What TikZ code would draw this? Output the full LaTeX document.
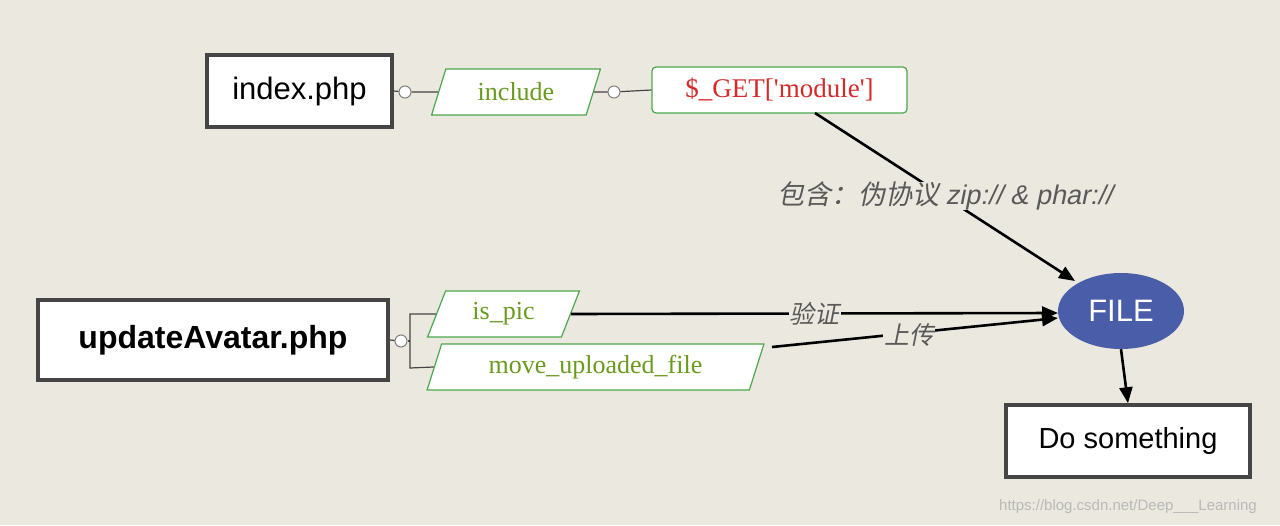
\documentclass[tikz,border=0pt]{standalone}
\usepackage{fontspec}
\setmainfont{Liberation Serif}
\setsansfont{Liberation Sans}
\newfontfamily\cjk[FakeSlant=0.2]{Noto Sans CJK SC}
\newfontfamily\slsans[FakeSlant=0.2]{Liberation Sans}
\usetikzlibrary{arrows.meta,shapes.geometric}
\definecolor{bg}{HTML}{EBE8DF}
\definecolor{gbord}{HTML}{4CA84C}
\definecolor{gtext}{HTML}{6A9A1E}
\definecolor{rtext}{HTML}{D42A2A}
\definecolor{fileblue}{HTML}{4A5DA8}
\definecolor{boxgray}{HTML}{454545}
\tikzset{
  bigbox/.style={draw=boxgray,line width=3.5pt,fill=white,font=\sffamily,inner sep=0pt},
  para/.style={trapezium,trapezium left angle=67,trapezium right angle=113,draw=gbord,line width=1.2pt,fill=white,text=gtext,font=\fontsize{26}{28}\selectfont,inner sep=0pt,trapezium stretches=true},
  dot/.style={circle,draw=gray,fill=white,minimum size=12pt,inner sep=0pt,line width=1pt},
  conn/.style={line width=1.2pt,draw=boxgray},
  arr/.style={line width=2.6pt,-{Triangle[length=16pt,width=13pt]}},
  lbl/.style={fill=bg,inner sep=1pt,text=gray!70!black},
}
\begin{document}
\begin{tikzpicture}[x=1pt,y=-1pt]
\fill[bg] (0,0) rectangle (1280,525);
\node[bigbox,minimum width=185pt,minimum height=72pt,font=\sffamily\fontsize{31}{34}\selectfont] (idx) at (299.5,91) {index.php};
\node[dot] (c1) at (405,92) {};
\node[para,minimum width=170pt,minimum height=46pt] (inc) at (516,92) {include};
\node[dot] (c2) at (614,92) {};
\node[draw=gbord,line width=1.2pt,rounded corners=4pt,fill=white,text=rtext,minimum width=255pt,minimum height=46pt,font=\fontsize{27}{29}\selectfont,inner sep=0pt] (get) at (779.5,90) {\$\_GET[\textquotesingle module\textquotesingle]};
\node[bigbox,minimum width=350pt,minimum height=80pt,font=\sffamily\bfseries\fontsize{32}{35}\selectfont] (upd) at (213,340) {updateAvatar.php};
\node[dot] (c3) at (401,341) {};
\node[para,minimum width=153pt,minimum height=46pt] (pic) at (503.5,314) {is\_pic};
\node[para,minimum width=337pt,minimum height=46pt] (mov) at (595.5,367) {move\_uploaded\_file};
\node[ellipse,fill=fileblue,text=white,minimum width=126pt,minimum height=76pt,font=\sffamily\fontsize{31}{34}\selectfont,inner sep=0pt] (file) at (1121,311) {FILE};
\node[bigbox,minimum width=244pt,minimum height=72pt,font=\sffamily\fontsize{29}{32}\selectfont] (do) at (1128,441) {Do something};
\draw[conn] (idx.east) -- (c1) -- (inc.west);
\draw[conn] (inc.east) -- (c2) -- (get.west);
\draw[conn] (upd.east) -- (c3);
\coordinate (v1) at (410,314);
\coordinate (v2) at (410,368);
\draw[conn] (c3.east) -- (410,341);
\draw[conn] (pic.west) -- (v1) -- (v2) -- (mov.west);
\coordinate (gs) at (815,113);
\coordinate (ge) at (1075,281);
\coordinate (ms) at (772,347);
\coordinate (fi1) at (1058,313);
\coordinate (fi2) at (1058,318);
\draw[arr] (gs) -- (ge);
\node[lbl,inner sep=0pt] (l1) at (945,196) {\cjk\fontsize{27}{29}\selectfont 包含：伪协议\ \slsans zip:// \& phar://};
\draw[arr] (pic.east) -- node[lbl,pos=0.5]{\cjk\fontsize{25}{27}\selectfont 验证} (fi1);
\draw[arr] (ms) -- node[lbl,pos=0.48,yshift=-2pt]{\cjk\fontsize{25}{27}\selectfont 上传} (fi2);
\draw[arr] (file.south) -- (do.north);
\node[text=gray!55,font=\sffamily\fontsize{15}{17}\selectfont] (wm) at (1128,507) {https://blog.csdn.net/Deep\_\_\_Learning};
\end{tikzpicture}
\end{document}
